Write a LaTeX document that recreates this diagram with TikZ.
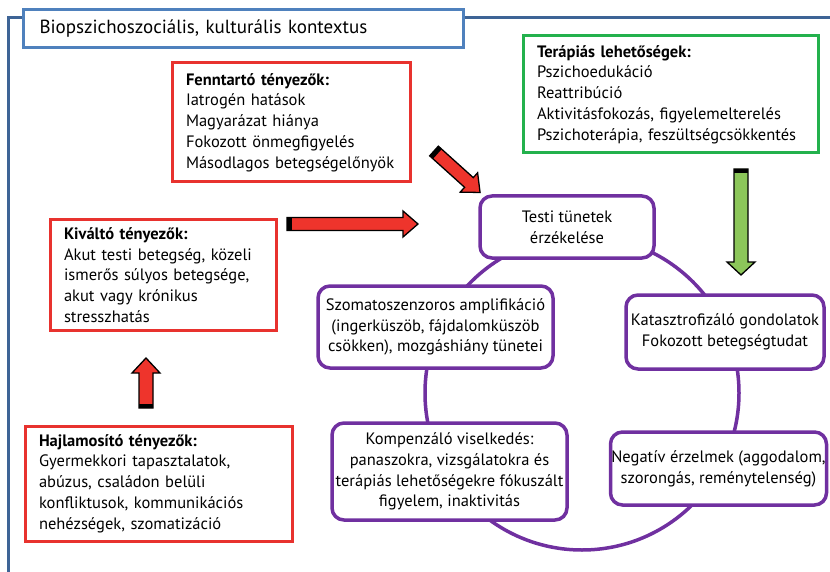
\documentclass[tikz,border=0pt]{standalone}
\usepackage{fontspec}
\setmainfont{PT Sans}
\definecolor{framecol}{RGB}{62,100,150}
\definecolor{titlecol}{RGB}{79,129,189}
\definecolor{boxred}{RGB}{232,50,46}
\definecolor{arrred}{RGB}{238,52,44}
\definecolor{boxgreen}{RGB}{35,177,77}
\definecolor{arrgreen}{RGB}{140,198,90}
\definecolor{purp}{RGB}{112,48,160}
\newcommand\blockarrow[9]{%
  % #1 name, #2 x, #3 y, #4 angle, #5 length, #6 body half-width, #7 head half-width, #8 head length, #9 fill
  \coordinate (#1) at (#2,#3);
  \begin{scope}[shift={(#1)}, rotate=#4]
    \filldraw[fill=#9, draw=black, line width=1.3, line join=miter]
      (0,-#6) -- ({#5-#8},-#6) -- ({#5-#8},-#7) -- (#5,0) -- ({#5-#8},#7) -- ({#5-#8},#6) -- (0,#6) -- cycle;
    \fill[black] (0,-#6) rectangle (4.5,#6);
  \end{scope}}
\tikzset{
  txt/.style={font=\fontsize{16.5}{20.8}\selectfont},
  redbox/.style={txt, draw=boxred, line width=3, fill=white, align=left, anchor=north west,
    inner xsep=14, inner ysep=0, outer sep=0},
  greenbox/.style={redbox, draw=boxgreen},
  purpbox/.style={txt, draw=purp, line width=3.5, rounded corners=12, fill=white, align=center,
    inner sep=0, outer sep=0},
}
\begin{document}
\begin{tikzpicture}[x=1pt,y=-1pt]
\useasboundingbox (0,0) rectangle (830,572);
% frame
\coordinate (fbl) at (8,574);
\coordinate (ftl) at (8,18);
\coordinate (ftr) at (832,18);
\draw[framecol, line width=3] (fbl) -- (ftl) -- (ftr);
\node[draw=titlecol, line width=3, fill=white, anchor=north west, minimum width=440, minimum height=38,
  inner xsep=16, align=left, text width=408, font=\fontsize{19}{22}\selectfont] (title) at (22,8)
  {Biopszichoszociális, kulturális kontextus};
% red / green boxes
\node[redbox, text width=210, minimum height=119] (fenn) at (172,63)
  {\textbf{Fenntartó tényezők:}\\Iatrogén hatások\\Magyarázat hiánya\\Fokozott önmegfigyelés\\Másodlagos betegségelőnyök};
\node[redbox, text width=198, minimum height=110] (kival) at (50,220)
  {\textbf{Kiváltó tényezők:}\\Akut testi betegség, közeli\\ismerős súlyos betegsége,\\akut vagy krónikus\\stresszhatás};
\node[redbox, text width=239, minimum height=115] (hajl) at (25,426)
  {\textbf{Hajlamosító tényezők:}\\Gyermekkori tapasztalatok,\\abúzus, családon belüli\\konfliktusok, kommunikációs\\nehézségek, szomatizáció};
\node[greenbox, text width=267, minimum height=117] (ter) at (523,36)
  {\textbf{Terápiás lehetőségek:}\\Pszichoedukáció\\Reattribúció\\Aktivitásfokozás, figyelemelterelés\\Pszichoterápia, feszültségcsökkentés};
% cycle
\node[draw=purp, line width=3.5, circle, minimum size=314, inner sep=0] (cyc) at (582,393) {};
\node[purpbox, minimum width=174, minimum height=62] (testi) at (567,227) {Testi tünetek\\érzékelése};
\node[purpbox, minimum width=235, minimum height=82] (szom) at (435.5,327)
  {Szomatoszenzoros amplifikáció\\(ingerküszöb, fájdalomküszöb\\csökken), mozgáshiány tünetei};
\node[purpbox, minimum width=198, minimum height=74] (kat) at (725,332)
  {Katasztrofizáló gondolatok\\Fokozott betegségtudat};
\node[purpbox, minimum width=216, minimum height=73] (neg) at (718.5,468.5)
  {Negatív érzelmek (aggodalom,\\szorongás, reménytelenség)};
\node[purpbox, minimum width=235, minimum height=97] (komp) at (449.5,471.5)
  {Kompenzáló viselkedés:\\panaszokra, vizsgálatokra és\\terápiás lehetőségekre fókuszált\\figyelem, inaktivitás};
% block arrows
\blockarrow{a1}{287}{224}{0}{131}{6.5}{13}{15}{arrred}
\blockarrow{a2}{434}{151}{-42}{62}{6.5}{13}{15}{arrred}
\blockarrow{a3}{146}{408}{90}{50}{7}{14}{15}{arrred}
\blockarrow{a4}{741}{169}{-90}{106}{7}{14}{13}{arrgreen}
\end{tikzpicture}
\end{document}
